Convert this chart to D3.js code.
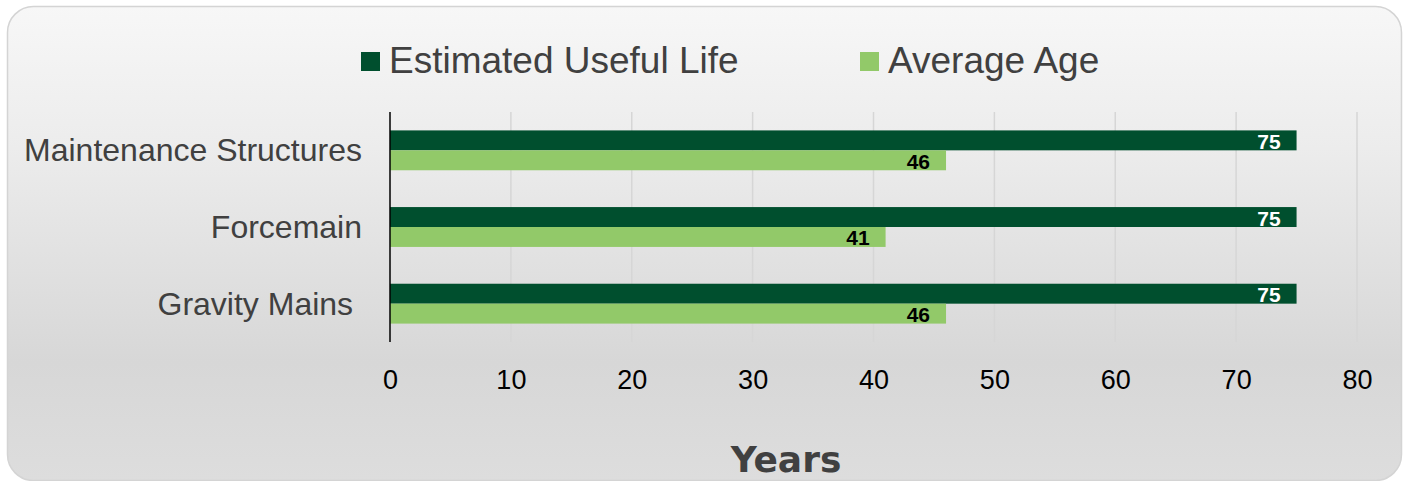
<!DOCTYPE html>
<html>
<head>
<meta charset="utf-8">
<script src="https://cdn.jsdelivr.net/npm/d3@7"></script>
<style>
  html, body { margin: 0; padding: 0; background: #fff; }
  svg { display: block; font-family: "Liberation Sans", Arial, sans-serif; }
</style>
</head>
<body>
<div id="chart"></div>
<script>
(function() {
  'use strict';

  // data
  var categories = ['Maintenance Structures', 'Forcemain', 'Gravity Mains '];
  var seriesNames = ['Estimated Useful Life', 'Average Age'];
  var usefulLife = [75, 75, 75];
  var averageAge = [46, 41, 46];
  var xTicks = [0, 10, 20, 30, 40, 50, 60, 70, 80];
  var colors = ['#004f2e', '#92c969'];
  var labelColors = ['#ffffff', '#000000'];

  var W = 1404, H = 481;
  var plot = { left: 390, right: 1357, top: 112, bottom: 342 };

  var svg = d3.select('#chart').append('svg')
    .attr('width', W)
    .attr('height', H);

  var defs = svg.append('defs');
  var grad = defs.append('linearGradient')
    .attr('id', 'bg')
    .attr('x1', 0).attr('y1', 0).attr('x2', 0).attr('y2', 1);
  grad.append('stop').attr('offset', '0%').attr('stop-color', '#f7f7f7');
  grad.append('stop').attr('offset', '30%').attr('stop-color', '#ececec');
  grad.append('stop').attr('offset', '75%').attr('stop-color', '#d7d7d7');
  grad.append('stop').attr('offset', '100%').attr('stop-color', '#dddddd');

  // card
  svg.append('rect')
    .attr('x', 7.5).attr('y', 6.5)
    .attr('width', 1394).attr('height', 474)
    .attr('rx', 26).attr('ry', 26)
    .attr('fill', 'url(#bg)')
    .attr('stroke', '#d4d4d4')
    .attr('stroke-width', 1.5);

  var x = d3.scaleLinear()
    .domain([0, 80])
    .range([plot.left, plot.right]);

  var y = d3.scaleBand()
    .domain(categories)
    .range([plot.top, plot.bottom])
    .paddingInner(0.48)
    .paddingOuter(0.24);

  var ySub = d3.scaleBand()
    .domain(seriesNames)
    .range([0, y.bandwidth()]);

  // gridlines
  svg.append('g')
    .selectAll('line')
    .data(xTicks.slice(1))
    .enter().append('line')
    .attr('x1', function(d) { return x(d); })
    .attr('x2', function(d) { return x(d); })
    .attr('y1', plot.top)
    .attr('y2', plot.bottom)
    .attr('stroke', '#d6d6d6')
    .attr('stroke-width', 1.5);

  // bars
  var rows = categories.map(function(c, i) {
    return { cat: c, values: [usefulLife[i], averageAge[i]] };
  });

  var group = svg.append('g').selectAll('g')
    .data(rows)
    .enter().append('g')
    .attr('transform', function(d) { return 'translate(0,' + y(d.cat) + ')'; });

  group.selectAll('rect')
    .data(function(d) {
      return d.values.map(function(v, j) { return { v: v, s: j }; });
    })
    .enter().append('rect')
    .attr('x', x(0))
    .attr('y', function(d) { return ySub(seriesNames[d.s]); })
    .attr('width', function(d) { return x(d.v) - x(0); })
    .attr('height', ySub.bandwidth())
    .attr('fill', function(d) { return colors[d.s]; });

  group.selectAll('text')
    .data(function(d) {
      return d.values.map(function(v, j) { return { v: v, s: j }; });
    })
    .enter().append('text')
    .attr('x', function(d) { return x(d.v) - 16; })
    .attr('y', function(d) { return ySub(seriesNames[d.s]) + ySub.bandwidth() / 2 + 1; })
    .attr('text-anchor', 'end')
    .attr('dominant-baseline', 'central')
    .attr('font-size', 21)
    .attr('font-weight', 'bold')
    .attr('fill', function(d) { return labelColors[d.s]; })
    .text(function(d) { return d.v; });

  // value axis line at zero
  svg.append('line')
    .attr('x1', x(0)).attr('x2', x(0))
    .attr('y1', plot.top).attr('y2', plot.bottom)
    .attr('stroke', '#000')
    .attr('stroke-width', 1.5);

  // category labels
  var yAxis = d3.axisLeft(y).tickSize(0).tickPadding(28);
  var yg = svg.append('g')
    .attr('transform', 'translate(' + x(0) + ',0)')
    .call(yAxis);
  yg.select('.domain').remove();
  yg.selectAll('text')
    .attr('font-size', 32)
    .attr('font-family', '"Liberation Sans", Arial, sans-serif')
    .attr('fill', '#404040')
    .style('white-space', 'pre')
    .attr('dy', '0.34em');

  // tick labels
  var xAxis = d3.axisBottom(x).tickValues(xTicks).tickSize(0).tickPadding(0);
  var xg = svg.append('g')
    .attr('transform', 'translate(0,' + (plot.bottom + 28) + ')')
    .call(xAxis);
  xg.select('.domain').remove();
  xg.selectAll('text')
    .attr('font-size', 27)
    .attr('font-family', '"Liberation Sans", Arial, sans-serif')
    .attr('fill', '#000');

  // axis title
  svg.append('text')
    .attr('x', 786)
    .attr('y', 472)
    .attr('text-anchor', 'middle')
    .attr('font-family', '"DejaVu Sans", sans-serif')
    .attr('font-weight', 'bold')
    .attr('font-size', 36)
    .attr('fill', '#404040')
    .text('Years');

  // legend
  var legendX = [361, 860];
  var legend = svg.append('g').selectAll('g')
    .data(seriesNames)
    .enter().append('g')
    .attr('transform', function(d, i) { return 'translate(' + legendX[i] + ',52)'; });

  legend.append('rect')
    .attr('width', 19)
    .attr('height', 19)
    .attr('fill', function(d, i) { return colors[i]; });

  legend.append('text')
    .attr('x', 28)
    .attr('y', 21)
    .attr('font-size', 37)
    .attr('fill', '#404040')
    .text(function(d) { return d; });
})();
</script>
</body>
</html>
